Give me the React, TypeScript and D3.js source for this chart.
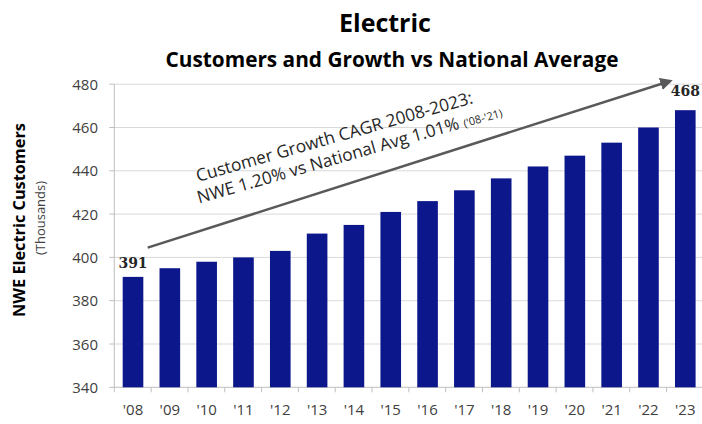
import React from "react";
import * as d3 from "d3";

const categories = ["'08", "'09", "'10", "'11", "'12", "'13", "'14", "'15", "'16", "'17", "'18", "'19", "'20", "'21", "'22", "'23"];
const customers = [391, 395, 398, 400, 403, 411, 415, 421, 426, 431, 436.5, 442, 447, 453, 460, 468];
const yTicks = [340, 360, 380, 400, 420, 440, 460, 480];
const labeled = ["'08", "'23"];
const labelText = ["391", "468"];

const W = 702;
const H = 424;
const FONT = "'Open Sans', Lato, sans-serif";

export default function App() {
  const x = d3
    .scaleBand<string>()
    .domain(categories)
    .range([114.6, 703.7])
    .paddingInner(0.44)
    .paddingOuter(0.22);
  const y = d3.scaleLinear().domain([340, 480]).range([387.3, 84.2]);
  const bw = x.bandwidth();
  const step = x.step();
  const left = 114.3;
  const bottom = y(340);

  // arrow annotation in data terms
  const ax1 = (x("'08") as number) + bw / 2 + 14.7;
  const ay1 = y(404.5);
  const ax2 = (x("'23") as number) + bw / 2 - 15;
  const ay2 = y(481.5);

  return (
    <svg width={W} height={H} style={{ position: "absolute", left: 0, top: 0, background: "#fff" }} fontFamily={FONT}>
      <defs>
        <marker id="ah" viewBox="0 0 10 10" refX="8" refY="5" markerWidth="5" markerHeight="5" orient="auto">
          <path d="M0,0 L10,5 L0,10 z" fill="#595959" />
        </marker>
      </defs>
      <text x={385} y={32} textAnchor="middle" fontSize={25} fontWeight="bold" fill="#000">Electric</text>
      <text x={392} y={67} textAnchor="middle" fontSize={20.8} fontWeight="bold" fill="#000">Customers and Growth vs National Average</text>

      {yTicks.map((t) => (
        <g key={t}>
          {t > 340 && <line x1={left} x2={W} y1={y(t)} y2={y(t)} stroke="#d9d9d9" strokeWidth={1} />}
          <line x1={left - 5} x2={left} y1={y(t)} y2={y(t)} stroke="#bfbfbf" />
          <text x={98} y={y(t) + 5.5} textAnchor="end" fontSize={15} fill="#404040">{t}</text>
        </g>
      ))}
      <line x1={left} x2={left} y1={y(480)} y2={bottom} stroke="#bfbfbf" />
      <line x1={left} x2={W} y1={bottom} y2={bottom} stroke="#bfbfbf" />
      {categories.map((c, i) => (
        <line key={"t" + c} x1={left + i * step} x2={left + i * step} y1={bottom} y2={bottom + 5} stroke="#bfbfbf" />
      ))}

      {categories.map((c, i) => (
        <rect key={c} x={x(c)} y={y(customers[i])} width={bw} height={bottom - y(customers[i])} fill="#0c178c" />
      ))}
      {categories.map((c) => (
        <text key={"l" + c} x={(x(c) as number) + bw / 2} y={415} textAnchor="middle" fontSize={15} fill="#404040">{c}</text>
      ))}
      {labeled.map((c, k) => {
        const i = categories.indexOf(c);
        return (
          <text key={"d" + c} x={(x(c) as number) + bw / 2} y={y(customers[i]) - (k === 0 ? 9 : 14)} textAnchor="middle" fontSize={14} fontWeight="bold" fontFamily="'DejaVu Serif', serif" fill="#262626">{labelText[k]}</text>
        );
      })}

      <line x1={ax1} y1={ay1} x2={ax2} y2={ay2} stroke="#595959" strokeWidth={2.5} markerEnd="url(#ah)" />
      <g transform={`translate(198,182) rotate(-16)`}>
        <text x={0} y={0} fontSize={17.3} fill="#262626">Customer Growth CAGR 2008-2023:</text>
        <text x={-5} y={21} fontSize={17.3} fill="#262626">
          NWE 1.20% vs National Avg 1.01% <tspan fontSize={11}>('08-'21)</tspan>
        </text>
      </g>

      <g transform={`translate(25,220) rotate(-90)`}>
        <text x={0} y={0} textAnchor="middle" fontSize={16.3} fontWeight="bold" fill="#000">NWE Electric Customers</text>
      </g>
      <g transform={`translate(45,218) rotate(-90)`}>
        <text x={0} y={0} textAnchor="middle" fontSize={13} fill="#404040">(Thousands)</text>
      </g>
    </svg>
  );
}
